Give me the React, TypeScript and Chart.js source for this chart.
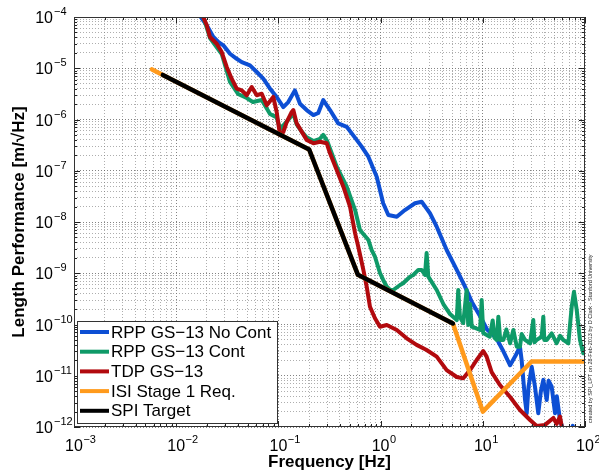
import React, { useEffect, useRef } from "react";
import { Chart, registerables } from "chart.js";

Chart.register(...registerables);

// ---- data (frequency in Hz, length performance in m/sqrt(Hz)) ----
const blueFreq = [0.0165, 0.0174, 0.0199, 0.0231, 0.0258, 0.0289, 0.0336, 0.0391, 0.0438, 0.0527, 0.0614, 0.0711, 0.0828, 0.0962, 0.1117, 0.125, 0.145, 0.1626, 0.189, 0.22, 0.2455, 0.275, 0.32, 0.385, 0.466, 0.583, 0.653, 0.759, 0.916, 1.06, 1.19, 1.44, 1.73, 2.17, 2.52, 3.04, 3.54, 4.43, 5.56, 6.7, 7.78, 9.5, 11, 13.5, 15.9, 18.5, 21, 23.1, 24, 25.9, 26.9, 28, 30.1, 32.4, 34.9, 37, 39.1, 42.2, 44, 47.2, 50.9, 53, 56.9, 61.4, 70, 76, 80, 100];
const blueVal = [1.25e-4, 1e-4, 6.9e-5, 4.07e-5, 3.25e-5, 2.8e-5, 1.92e-5, 1.53e-5, 1.32e-5, 1.14e-5, 8.45e-6, 6.25e-6, 4.0e-6, 2.75e-6, 1.75e-6, 2.19e-6, 3.7e-6, 2.03e-6, 1.53e-6, 1.22e-6, 1.34e-6, 2.4e-6, 1.53e-6, 8.4e-7, 7.2e-7, 4.0e-7, 2.95e-7, 1.88e-7, 7.65e-8, 2.32e-8, 1.37e-8, 1.27e-8, 1.71e-8, 2.32e-8, 2.49e-8, 1.48e-8, 8.1e-9, 2.84e-9, 1.16e-9, 5.47e-10, 2.79e-10, 1.4e-10, 8e-11, 5.5e-11, 3.0e-11, 1.6e-11, 2.5e-11, 3.7e-11, 2.0e-11, 3.4e-12, 1.85e-12, 6e-12, 1.5e-11, 6.1e-12, 1.85e-12, 5e-12, 8.3e-12, 3.36e-12, 8e-12, 6.1e-12, 1.85e-12, 4e-12, 1.37e-12, 8.5e-13, 6e-13, 1.05e-12, 6e-13, 5e-13];

const greenFreq = [0.0175, 0.0184, 0.0214, 0.0279, 0.0336, 0.0403, 0.049, 0.0564, 0.0687, 0.0828, 0.0962, 0.104, 0.12, 0.14, 0.151, 0.169, 0.189, 0.22, 0.255, 0.275, 0.30, 0.372, 0.466, 0.563, 0.628, 0.759, 0.818, 0.881, 0.986, 1.06, 1.15, 1.24, 1.33, 1.55, 1.66, 1.94, 2.09, 2.34, 2.52, 2.72, 2.82, 2.93, 3.54, 4.11, 4.78, 5.56, 5.75, 5.98, 6.44, 6.95, 7.2, 7.5, 7.8, 8.07, 9.4, 9.75, 10.1, 11.7, 12.5, 13.0, 13.7, 14.2, 14.8, 15.9, 17, 18.5, 19.9, 21.5, 23.1, 24, 25.9, 29, 31.2, 32, 33.7, 37.7, 39.1, 40, 42.2, 47.2, 52.8, 57, 61.4, 68.7, 74.1, 78, 83, 89.3, 96.2, 100];
const greenVal = [1.25e-4, 1e-4, 3.9e-5, 1.9e-5, 5.4e-6, 3.15e-6, 2.63e-6, 2.19e-6, 2.4e-6, 1.28e-6, 1.1e-6, 6.5e-7, 9e-7, 1.3e-6, 8e-7, 5.8e-7, 4.5e-7, 3.8e-7, 4.2e-7, 5.0e-7, 3.8e-7, 1.2e-7, 4.89e-8, 1.71e-8, 7.0e-9, 4.46e-9, 2.84e-9, 2.1e-9, 1.01e-9, 7.4e-10, 5.47e-10, 4.71e-10, 4.71e-10, 5.9e-10, 6.37e-10, 8.57e-10, 9.25e-10, 1.16e-9, 1.16e-9, 9.25e-10, 2.48e-9, 8.57e-10, 4.71e-10, 2.51e-10, 1.6e-10, 1.22e-10, 4.71e-10, 1.4e-10, 1.07e-10, 4.71e-10, 9.8e-11, 2.5e-10, 9e-11, 8.9e-11, 7.8e-11, 3.0e-10, 6.8e-11, 5.78e-11, 1.2e-10, 5.5e-11, 5.0e-11, 1.42e-10, 5e-11, 5.0e-11, 8e-11, 4.3e-11, 7.8e-11, 3.69e-11, 3.69e-11, 6.5e-11, 5.0e-11, 4.3e-11, 1.22e-10, 4.5e-11, 5e-11, 5.78e-11, 1.42e-10, 5e-11, 5e-11, 6.7e-11, 4.3e-11, 6e-11, 5e-11, 4.3e-11, 2.22e-10, 4.36e-10, 1.92e-10, 5e-11, 2.74e-11, 3.2e-11];

const redFreq = [0.0175, 0.0184, 0.0199, 0.0214, 0.0249, 0.0279, 0.0312, 0.0349, 0.0391, 0.0438, 0.049, 0.0548, 0.0614, 0.0687, 0.0769, 0.0891, 0.0962, 0.1037, 0.1117, 0.1205, 0.135, 0.14, 0.151, 0.169, 0.189, 0.22, 0.255, 0.297, 0.32, 0.372, 0.432, 0.502, 0.563, 0.605, 0.678, 0.731, 0.787, 0.881, 0.986, 1.15, 1.44, 1.8, 2.25, 2.82, 3.54, 4.43, 5.56, 6.44, 7.5, 8.71, 10.1, 10.9, 12.2, 14.7, 18.5, 23.1, 29, 33.7, 40.6, 49, 52.8, 56.9, 60, 100];
const redVal = [1.25e-4, 1e-4, 6.9e-5, 4.07e-5, 3.01e-5, 2.07e-5, 1.06e-5, 6.25e-6, 4.0e-6, 3.7e-6, 2.97e-6, 4.3e-6, 2.97e-6, 3.19e-6, 1.89e-6, 2.75e-6, 1.4e-6, 4.92e-7, 5.7e-7, 8.9e-7, 1.4e-6, 1.53e-6, 8.4e-7, 5.8e-7, 4.0e-7, 3.43e-7, 3.69e-7, 3.43e-7, 2.19e-7, 1.03e-7, 4.89e-8, 1.99e-8, 6.0e-9, 3.3e-9, 1.16e-9, 5.47e-10, 2.22e-10, 1.32e-10, 9.06e-11, 9.8e-11, 7.8e-11, 5.38e-11, 4.0e-11, 3.18e-11, 2.36e-11, 1.29e-11, 9.46e-12, 8.9e-12, 1.29e-11, 2.03e-11, 3.04e-11, 2.36e-11, 1.18e-11, 6.6e-12, 3.85e-12, 2.15e-12, 1.37e-12, 1.05e-12, 1.1e-12, 1.5e-12, 1.15e-12, 1.59e-12, 9e-13, 5e-13];

const isiFreq = [0.0058, 0.2, 0.6, 5.1, 10, 30, 100];
const isiVal = [9.5e-6, 2.6e-7, 9.3e-10, 1.05e-10, 2e-12, 1.9e-11, 1.9e-11];

const spiFreq = [0.0074, 0.2, 0.6, 5.1];
const spiVal = [7.4e-6, 2.6e-7, 9.3e-10, 1.05e-10];

const seriesLabels = ["RPP GS\u221213 No Cont", "RPP GS\u221213 Cont", "TDP GS\u221213", "ISI Stage 1 Req.", "SPI Target"];
const seriesColors = ["#0d4fd4", "#0f9a68", "#b20a0e", "#ff9a1c", "#000000"];

const xExpMin = -3;
const xExpMax = 2;
const yExpMin = -12;
const yExpMax = -4;

const xTitle = "Frequency [Hz]";
const yTitle = "Length Performance [m/\u221AHz]";
const creditText = "created by SPI_LPT on 28-Feb-2013 by D Clark - Stanford University";

// ---- helpers ----
function logTicks(eMin: number, eMax: number): number[] {
  const out: number[] = [];
  for (let e = eMin; e < eMax; e++) {
    for (let m = 1; m <= 9; m++) out.push(Number(`${m}e${e}`));
  }
  out.push(Number(`1e${eMax}`));
  return out;
}
const xTickValues = logTicks(xExpMin, xExpMax);
const yTickValues = logTicks(yExpMin, yExpMax);

function isPow10(v: number): boolean {
  const l = Math.log10(v);
  return Math.abs(l - Math.round(l)) < 1e-9;
}

function pts(f: number[], v: number[]) {
  return f.map((x, i) => ({ x, y: v[i] }));
}

const FONT = "'Liberation Sans', Arial, Helvetica, sans-serif";

const decorPlugin = {
  id: "decor",
  afterDraw(chart: any) {
    const { ctx, chartArea: a, scales } = chart;
    const xs = scales.x;
    const ys = scales.y;
    ctx.save();

    // inward tick marks
    ctx.strokeStyle = "#222";
    ctx.lineWidth = 1;
    ctx.beginPath();
    for (const v of xTickValues) {
      const px = Math.round(xs.getPixelForValue(v)) + 0.5;
      const len = isPow10(v) ? 6 : 3;
      ctx.moveTo(px, a.bottom);
      ctx.lineTo(px, a.bottom - len);
      ctx.moveTo(px, a.top);
      ctx.lineTo(px, a.top + len);
    }
    for (const v of yTickValues) {
      const py = Math.round(ys.getPixelForValue(v)) + 0.5;
      const len = isPow10(v) ? 6 : 3;
      ctx.moveTo(a.left, py);
      ctx.lineTo(a.left + len, py);
      ctx.moveTo(a.right, py);
      ctx.lineTo(a.right - len, py);
    }
    ctx.stroke();

    // box
    ctx.strokeStyle = "#333";
    ctx.strokeRect(Math.round(a.left) + 0.5, Math.round(a.top) + 0.5, Math.round(a.right - a.left) - 1, Math.round(a.bottom - a.top) - 1);

    // tick labels
    ctx.fillStyle = "#000";
    ctx.textBaseline = "alphabetic";
    for (let e = xExpMin; e <= xExpMax; e++) {
      const px = xs.getPixelForValue(Number(`1e${e}`));
      ctx.font = `16px ${FONT}`;
      const bw = ctx.measureText("10").width;
      ctx.textAlign = "center";
      ctx.fillText("10", px, a.bottom + 24);
      ctx.font = `11px ${FONT}`;
      ctx.textAlign = "left";
      ctx.fillText(String(e).replace("-", "\u2212"), px + bw / 2 + 0.5, a.bottom + 16);
    }
    for (let e = yExpMin; e <= yExpMax; e++) {
      const py = ys.getPixelForValue(Number(`1e${e}`));
      ctx.font = `16px ${FONT}`;
      ctx.textAlign = "right";
      ctx.fillText("10", 53, py + 6);
      ctx.font = `11px ${FONT}`;
      ctx.textAlign = "left";
      ctx.fillText(String(e).replace("-", "\u2212"), 54, py - 2);
    }

    // axis titles
    ctx.font = `bold 17px ${FONT}`;
    ctx.textAlign = "center";
    ctx.textBaseline = "middle";
    ctx.fillText(xTitle, (a.left + a.right) / 2, 462);
    ctx.save();
    ctx.translate(19, (a.top + a.bottom) / 2);
    ctx.rotate(-Math.PI / 2);
    ctx.fillText(yTitle, 0, 0);
    ctx.restore();

    // credit text
    ctx.save();
    ctx.translate(590, 423);
    ctx.rotate(-Math.PI / 2);
    ctx.font = `5.5px ${FONT}`;
    ctx.textAlign = "left";
    ctx.textBaseline = "middle";
    ctx.fillStyle = "#222";
    ctx.fillText(creditText, 0, 0);
    ctx.restore();

    // legend
    const lx = a.left + 3;
    const ly = 321;
    const lw = 201;
    const lh = 103;
    ctx.fillStyle = "#fff";
    ctx.fillRect(lx, ly, lw, lh);
    ctx.strokeStyle = "#333";
    ctx.lineWidth = 1;
    ctx.strokeRect(lx + 0.5, ly + 0.5, lw - 1, lh - 1);
    ctx.font = `17px ${FONT}`;
    ctx.textAlign = "left";
    ctx.textBaseline = "middle";
    seriesLabels.forEach((lab, i) => {
      const cy = ly + 11 + i * 19.7;
      ctx.strokeStyle = seriesColors[i];
      ctx.lineWidth = 4;
      ctx.beginPath();
      ctx.moveTo(lx + 3, cy);
      ctx.lineTo(lx + 32, cy);
      ctx.stroke();
      ctx.fillStyle = "#000";
      ctx.fillText(lab, lx + 34, cy + 1);
    });

    ctx.restore();
  },
};

export default function App() {
  const ref = useRef<HTMLCanvasElement | null>(null);

  useEffect(() => {
    if (!ref.current) return;
    const gridColor = (c: any) => (c.tick && isPow10(c.tick.value) ? "rgba(90,90,90,0.75)" : "rgba(120,120,120,0.6)");
    const mk = (label: string, f: number[], v: number[], color: string, order: number, width: number) => ({
      label,
      data: pts(f, v),
      borderColor: color,
      backgroundColor: color,
      borderWidth: width,
      pointRadius: 0,
      tension: 0,
      fill: false,
      order,
      clip: 0,
      borderJoinStyle: "round" as const,
      borderCapStyle: "round" as const,
    });
    const chart = new Chart(ref.current, {
      type: "line",
      data: {
        datasets: [
          mk(seriesLabels[0], blueFreq, blueVal, seriesColors[0], 5, 4),
          mk(seriesLabels[1], greenFreq, greenVal, seriesColors[1], 4, 4),
          mk(seriesLabels[2], redFreq, redVal, seriesColors[2], 3, 4),
          mk(seriesLabels[3], isiFreq, isiVal, seriesColors[3], 2, 4.5),
          mk(seriesLabels[4], spiFreq, spiVal, seriesColors[4], 1, 4.5),
        ],
      },
      options: {
        animation: false,
        responsive: false,
        maintainAspectRatio: false,
        devicePixelRatio: 1,
        parsing: false as any,
        layout: { padding: { left: 74, right: 14, top: 17, bottom: 45 } },
        plugins: { legend: { display: false }, tooltip: { enabled: false }, title: { display: false } },
        scales: {
          x: {
            type: "logarithmic",
            min: Number(`1e${xExpMin}`),
            max: Number(`1e${xExpMax}`),
            afterBuildTicks: (s: any) => {
              s.ticks = xTickValues.map((v) => ({ value: v }));
            },
            ticks: { display: false },
            grid: { drawTicks: false, color: gridColor, lineWidth: 1 },
            border: { display: false, dash: [1, 2] },
          },
          y: {
            type: "logarithmic",
            min: Number(`1e${yExpMin}`),
            max: Number(`1e${yExpMax}`),
            afterBuildTicks: (s: any) => {
              s.ticks = yTickValues.map((v) => ({ value: v }));
            },
            ticks: { display: false },
            grid: { drawTicks: false, color: gridColor, lineWidth: 1 },
            border: { display: false, dash: [1, 2] },
          },
        },
      },
      plugins: [decorPlugin],
    });
    return () => chart.destroy();
  }, []);

  return (
    <div style={{ position: "absolute", left: 0, top: 0, width: 599, height: 472, background: "#fff" }}>
      <canvas ref={ref} width={599} height={472} style={{ width: 599, height: 472, display: "block" }} />
    </div>
  );
}
